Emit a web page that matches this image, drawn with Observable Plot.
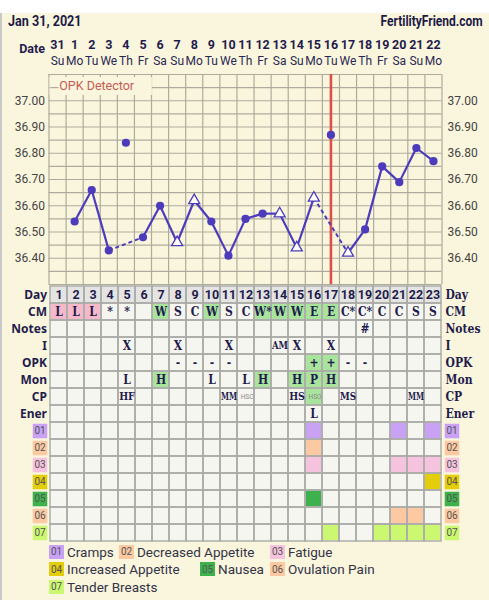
<!DOCTYPE html>
<html><head><meta charset="utf-8">
<script src="https://cdn.jsdelivr.net/npm/d3@7"></script>
<script src="https://cdn.jsdelivr.net/npm/@observablehq/plot@0.6"></script>
<style>
body{margin:0;background:#fff;}
#wrap{position:relative;width:489px;height:600px;overflow:hidden;background:#fff;font-family:Roboto,sans-serif;}
#panel{position:absolute;left:0;top:13px;width:489px;height:587px;background:#faf6dd;border-left:2px solid #c9c9c9;box-sizing:border-box;}
.abs{position:absolute;}
.title{font-weight:700;font-size:15px;line-height:15px;color:#1c1a47;white-space:nowrap;}
.lg{position:absolute;height:15px;display:flex;align-items:center;white-space:nowrap;}
.lg .b{width:15px;height:14px;font-size:10px;color:#555;display:flex;align-items:center;justify-content:center;margin-right:3px;}
.lg .t{font-size:13.5px;color:#333348;}
</style></head>
<body><div id="wrap"><div id="panel"></div></div>
<script>
// ---- data ----
const cycleDays = [1,2,3,4,5,6,7,8,9,10,11,12,13,14,15,16,17,18,19,20,21,22,23];
const dateLabels = ["31","1","2","3","4","5","6","7","8","9","10","11","12","13","14","15","16","17","18","19","20","21","22"];
const weekdayLabels = ["Su","Mo","Tu","We","Th","Fr","Sa","Su","Mo","Tu","We","Th","Fr","Sa","Su","Mo","Tu","We","Th","Fr","Sa","Su","Mo"];
const temps = [null,36.54,36.66,36.43,36.84,36.48,36.60,36.46,36.62,36.54,36.41,36.55,36.57,36.57,36.44,36.63,36.87,36.42,36.51,36.75,36.69,36.82,36.77];
const discardedDays = [5,17];
const triangleDays = [8,9,14,15,16,18];
const ovulationDay = 17;
const yTickValues = [36.40,36.50,36.60,36.70,36.80,36.90,37.00];
const gridTemps = [36.30,36.35,36.40,36.45,36.50,36.55,36.60,36.65,36.70,36.75,36.80,36.85,36.90,36.95,37.00,37.05,37.10];

const rowKeys = ["Day","CM","Notes","I","OPK","Mon","CP","Ener","01","02","03","04","05","06","07"];
const rowLabels = ["Day","CM","Notes","I","OPK","Mon","CP","Ener"];
const cmRow    = ["L","L","L","*","*","","W","S","C","W","S","C","W*","W","W","E","E","C*","C*","C","C","S","S"];
const cmPinkDays = [1,2,3];
const cmGreenDays = [7,10,13,14,15,16,17];
const notesRow = ["","","","","","","","","","","","","","","","","","","#","","","",""];
const iRow     = ["","","","","X","","","X","","","X","","","AM","X","","X","","","","","",""];
const opkRow   = ["","","","","","","","-","-","-","-","","","","","+","+","-","-","","","",""];
const opkGreenDays = [16,17];
const monRow   = ["","","","","L","","H","","","L","","L","H","","H","P","H","","","","","",""];
const monGreenDays = [7,13,15,16,17];
const cpRow    = ["","","","","HF","","","","","","MM","HSC","","","HS","HSO","","MS","","","","MM",""];
const cpSmall  = ["HSC","HSO"];
const cpGreenDays = [16];
const enerRow  = ["","","","","","","","","","","","","","","","L","","","","","","",""];

const symptomCodes  = ["01","02","03","04","05","06","07"];
const symptomNames  = ["Cramps","Decreased Appetite","Fatigue","Increased Appetite","Nausea","Ovulation Pain","Tender Breasts"];
const symptomColors = ["#c9a2f6","#fcc9a2","#f5c3de","#e4cd0b","#3db24c","#fcc9a2","#cbf771"];
const symptomDays   = [[16,21,23],[16],[16,21,22,23],[23],[16],[21,22],[17,20,21,22,23]];

// ---- styles ----
const ink = "#1f1c4d";
const lineColor = "#4c3cbc";
const sans = "Roboto, sans-serif";
const slab = "'DejaVu Serif Condensed', 'DejaVu Serif', serif";
const W = 489, mL = 48.5, mR = 47.5;
const wrap = document.getElementById("wrap");

// ---- header ----
const t1 = document.createElement("div");
t1.className = "abs title"; t1.textContent = "Jan 31, 2021";
t1.style.cssText += "left:8px;top:14px;transform:scaleX(0.84);transform-origin:left center;";
wrap.appendChild(t1);
const t2 = document.createElement("div");
t2.className = "abs title"; t2.textContent = "FertilityFriend.com";
t2.style.cssText += "right:6px;top:14px;transform:scaleX(0.8);transform-origin:right center;";
wrap.appendChild(t2);

// ---- temperature chart ----
const pts = temps.map((t,i)=>({day: cycleDays[i], t})).filter(d=>d.t!=null);
const kept = pts.filter(d=>!discardedDays.includes(d.day));
const segs = kept.slice(1).map((d,i)=>({x1:kept[i].day,y1:kept[i].t,x2:d.day,y2:d.t,dashed:d.day-kept[i].day>1}));
const colEdges = cycleDays.map(d=>d-0.5).concat([cycleDays[cycleDays.length-1]+0.5]);

const tempPlot = Plot.plot({
  width: W, height: 271, marginTop: 61, marginBottom: 0, marginLeft: mL, marginRight: mR,
  style: {background: "transparent", overflow: "visible"},
  x: {domain: [0.5, 23.5], axis: null},
  y: {domain: [36.30, 37.10], axis: null},
  marks: [
    Plot.frame({fill: "#faf6dd"}),
    Plot.ruleY(gridTemps, {stroke: "#aeab9e", strokeWidth: 1.2}),
    Plot.ruleX(colEdges, {stroke: "#aeab9e", strokeWidth: 1.2}),
    // OPK detector label box
    Plot.rect([0], {x1: 0.56, x2: 6.55, y1: 37.088, y2: 37.02, fill: "#faf6dd"}),
    Plot.ruleY([37.05], {x1: 0.6, x2: 1.08, stroke: "#aeab9e", strokeWidth: 1.2}),
    Plot.text(["OPK Detector"], {x: 1.1, y: 37.055, text: d=>d, textAnchor: "start", fontSize: 12.5, fontFamily: sans, fill: "#c75a55"}),
    // axes labels
    Plot.text(yTickValues, {x: 0.5, y: d=>d, text: d=>d.toFixed(2), textAnchor: "end", dx: -4, fontSize: 12, fontFamily: sans, fill: "#444"}),
    Plot.text(yTickValues, {x: 23.5, y: d=>d, text: d=>d.toFixed(2), textAnchor: "start", dx: 5.5, fontSize: 12, fontFamily: sans, fill: "#444"}),
    // date header
    Plot.text(dateLabels, {x: (d,i)=>cycleDays[i], y: 37.10, dy: -30, text: d=>d, fontWeight: "bold", fontSize: 12.5, fontFamily: sans, fill: ink}),
    Plot.text(weekdayLabels, {x: (d,i)=>cycleDays[i], y: 37.10, dy: -13.5, text: d=>d, fontSize: 12, fontFamily: sans, fill: "#2a2852"}),
    Plot.text(["Date"], {x: 0.5, y: 37.10, dy: -26, dx: -4, text: d=>d, textAnchor: "end", fontWeight: "bold", fontSize: 12.5, fontFamily: sans, fill: ink}),
    // ovulation line
    Plot.ruleX([ovulationDay], {stroke: "#dc4f4c", strokeWidth: 2.6}),
    // temps
    Plot.link(segs.filter(s=>!s.dashed), {x1: "x1", y1: "y1", x2: "x2", y2: "y2", stroke: lineColor, strokeWidth: 2.2}),
    Plot.link(segs.filter(s=>s.dashed), {x1: "x1", y1: "y1", x2: "x2", y2: "y2", stroke: lineColor, strokeWidth: 2, strokeDasharray: "4,3"}),
    Plot.dot(pts.filter(d=>!triangleDays.includes(d.day)), {x: "day", y: "t", r: 4.1, fill: lineColor}),
    Plot.dot(pts.filter(d=>triangleDays.includes(d.day)), {x: "day", y: "t", r: 4.1, symbol: "triangle", fill: "white", stroke: lineColor, strokeWidth: 1.3})
  ]
});
tempPlot.style.position = "absolute"; tempPlot.style.left = "0px"; tempPlot.style.top = "13px";
wrap.appendChild(tempPlot);

// ---- table ----
const allCells = [];
for (const r of rowKeys) for (const d of cycleDays) allCells.push({day: d, row: r});
const colored = [];
cmPinkDays.forEach(d=>colored.push({day: d, row: "CM", fill: "#f6b9ca"}));
cmGreenDays.forEach(d=>colored.push({day: d, row: "CM", fill: "#a8e49c"}));
opkGreenDays.forEach(d=>colored.push({day: d, row: "OPK", fill: "#a8e49c"}));
monGreenDays.forEach(d=>colored.push({day: d, row: "Mon", fill: "#a8e49c"}));
cpGreenDays.forEach(d=>colored.push({day: d, row: "CP", fill: "#a8e49c"}));
symptomCodes.forEach((c,k)=>symptomDays[k].forEach(d=>colored.push({day: d, row: c, fill: symptomColors[k]})));

const textRows = [["CM", cmRow], ["Notes", notesRow], ["I", iRow], ["OPK", opkRow], ["Mon", monRow], ["CP", cpRow], ["Ener", enerRow]];
const cellTexts = [];
textRows.forEach(([r, arr])=>arr.forEach((v,i)=>{ if (v) cellTexts.push({day: cycleDays[i], row: r, text: v}); }));
const isPair = s => /^[A-Z]{2}$/.test(s);
const bigTexts = cellTexts.filter(d=>!cpSmall.includes(d.text) && !isPair(d.text));
const pairTexts = cellTexts.filter(d=>isPair(d.text));
const smallTexts = cellTexts.filter(d=>cpSmall.includes(d.text));

const tablePlot = Plot.plot({
  width: W, height: 258, marginTop: 0, marginBottom: 0, marginLeft: mL, marginRight: mR,
  style: {background: "transparent", overflow: "visible"},
  x: {type: "band", domain: cycleDays, padding: 0, axis: null},
  y: {type: "band", domain: rowKeys, padding: 0, axis: null},
  color: {type: "identity"},
  marks: [
    Plot.cell(allCells, {x: "day", y: "row", fill: d=>d.row==="Day" ? "#e4e4e2" : "#f6f6f1"}),
    Plot.cell(colored, {x: "day", y: "row", fill: "fill", inset: 0.8}),
    Plot.cell(allCells, {x: "day", y: "row", fill: "none", stroke: "#a9a9a6", strokeWidth: 1.4}),
    Plot.text(cycleDays, {x: d=>d, y: ()=>"Day", text: d=>String(d), fontWeight: "bold", fontSize: 12.5, fontFamily: sans, fill: ink}),
    Plot.text(bigTexts, {x: "day", y: "row", text: "text", fontWeight: "bold", fontSize: 12, fontFamily: slab, fill: ink}),
    Plot.text(pairTexts, {x: "day", y: "row", text: "text", fontWeight: "bold", fontSize: 10.5, fontFamily: slab, fill: ink}),
    Plot.text(smallTexts, {x: "day", y: "row", text: "text", dx: 1, fontSize: 6.5, fontFamily: sans, fill: "#8a8a8a"}),
    Plot.text(rowLabels, {y: d=>d, text: d=>d, frameAnchor: "left", textAnchor: "end", dx: -2, fontWeight: "bold", fontSize: 12, fontFamily: d=>d==="Day" ? sans : slab, fill: ink}),
    Plot.text(rowLabels, {y: d=>d, text: d=>d, frameAnchor: "right", textAnchor: "start", dx: 3.5, fontWeight: "bold", fontSize: 12, fontFamily: slab, fill: ink}),
    Plot.dot(symptomCodes, {y: d=>d, frameAnchor: "left", dx: -9, symbol: "square", r: 8.2, fill: (d,i)=>symptomColors[i]}),
    Plot.text(symptomCodes, {y: d=>d, text: d=>d, frameAnchor: "left", dx: -9, textAnchor: "middle", fontSize: 10, fontFamily: sans, fill: "#555"}),
    Plot.dot(symptomCodes, {y: d=>d, frameAnchor: "right", dx: 10, symbol: "square", r: 8.2, fill: (d,i)=>symptomColors[i]}),
    Plot.text(symptomCodes, {y: d=>d, text: d=>d, frameAnchor: "right", dx: 10, textAnchor: "middle", fontSize: 10, fontFamily: sans, fill: "#555"})
  ]
});
tablePlot.style.position = "absolute"; tablePlot.style.left = "0px"; tablePlot.style.top = "284px";
wrap.appendChild(tablePlot);

// compress wide two-letter slab cell texts so they fit their column
const pairSet = new Set(pairTexts.map(d=>d.text));
tablePlot.querySelectorAll("text").forEach(el=>{
  const s = el.textContent;
  if (pairSet.has(s)) {
    const len = el.getComputedTextLength();
    if (len > 16) {
      el.setAttribute("textLength", "16");
      el.setAttribute("lengthAdjust", "spacingAndGlyphs");
    }
  }
});

// ---- legend ----
const legendLeft = [49,119,270,49,200,270,49];
const legendRow = [0,0,0,1,1,1,2];
symptomCodes.forEach((c,k)=>{
  const el = document.createElement("div");
  el.className = "lg";
  el.style.left = legendLeft[k] + "px";
  el.style.top = (544 + legendRow[k]*17.5) + "px";
  el.innerHTML = `<span class="b" style="background:${symptomColors[k]}">${c}</span><span class="t">${symptomNames[k]}</span>`;
  wrap.appendChild(el);
});
</script>
</body></html>
